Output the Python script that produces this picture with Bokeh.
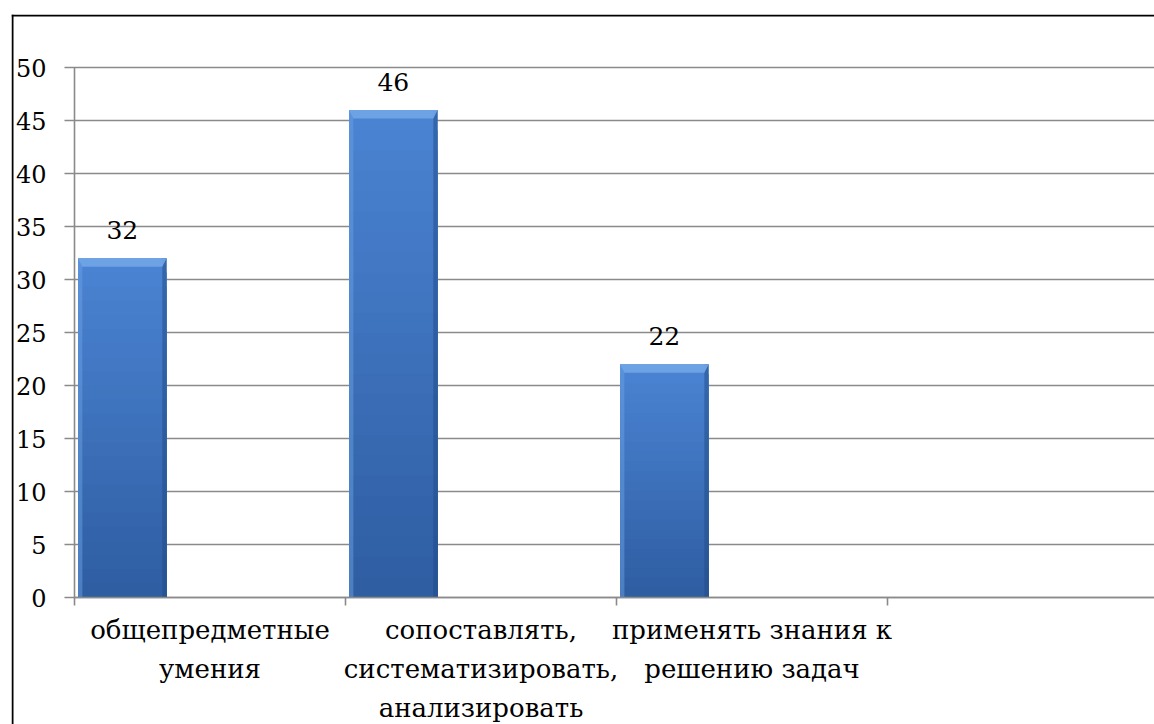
from bokeh.plotting import figure
from bokeh.models import (Range1d, FixedTicker, LabelSet, ColumnDataSource, LinearAxis)
from bokeh.core.properties import value
from bokeh.embed import file_html
from bokeh.resources import INLINE

# --- data -------------------------------------------------------------
categories = [
    "общепредметные\nумения",
    "сопоставлять,\nсистематизировать,\nанализировать",
    "применять знания к\nрешению задач",
    "",
]
values = [32, 46, 22]
y_ticks = [0, 5, 10, 15, 20, 25, 30, 35, 40, 45, 50]

FONT = "DejaVu Serif"
GRID = "#8a8a8a"

# the frame covers the whole chart area; axes sit at x=0 / y=0 inside it
X0, X1 = -0.2325, 3.985
Y0, Y1 = -11.98, 55.0
p = figure(width=1154, height=724, output_backend="svg", toolbar_location=None,
           x_range=Range1d(X0, X1), y_range=Range1d(Y0, Y1),
           min_border_left=11, min_border_right=0,
           min_border_top=14, min_border_bottom=0)
p.outline_line_color = None
p.background_fill_color = "white"
p.border_fill_color = "white"
p.xaxis.visible = False
p.yaxis.visible = False
p.xgrid.visible = False
p.ygrid.visible = False

# chart-area border (top and left edges), one pixel inside the frame
px_x = (X1 - X0) / 1143.0
px_y = (Y1 - Y0) / 710.0
p.segment(x0=[X0 + px_x, X0], x1=[X0 + px_x, X1],
          y0=[Y0, Y1 - px_y], y1=[Y1, Y1 - px_y],
          line_color="black", line_width=2)

# horizontal grid lines, starting where the value-axis ticks start
n_cat = len(categories)
p.segment(x0=-0.037, x1=n_cat, y0=y_ticks, y1=y_ticks,
          line_color=GRID, line_width=1.6)

# value axis
yax = LinearAxis(fixed_location=0, ticker=FixedTicker(ticks=y_ticks))
yax.axis_line_color = GRID
yax.axis_line_width = 1.6
yax.major_tick_line_color = None
yax.minor_tick_line_color = None
yax.major_label_standoff = 22
yax.major_label_text_font = FONT
yax.major_label_text_font_size = "24px"
yax.major_label_text_color = "black"
yax.bounds = (0, 50)
p.add_layout(yax, "left")

# category axis: labels at category centres, boundary marks as minor ticks
centres = [i + 0.5 for i in range(n_cat)]
xax = LinearAxis(fixed_location=0,
                 ticker=FixedTicker(ticks=centres, minor_ticks=list(range(n_cat + 1))))
xax.major_label_overrides = {c: lab for c, lab in zip(centres, categories)}
xax.axis_line_color = GRID
xax.axis_line_width = 1.6
xax.major_tick_line_color = None
xax.major_tick_in = 0
xax.major_tick_out = 8
xax.minor_tick_line_color = GRID
xax.minor_tick_line_width = 1.6
xax.minor_tick_in = 0
xax.minor_tick_out = 8
xax.major_label_standoff = 9
xax.major_label_text_font = FONT
xax.major_label_text_font_size = "26px"
xax.major_label_text_color = "black"
xax.major_label_text_line_height = 1.3
xax.bounds = (0, n_cat)
p.add_layout(xax, "below")

# bars: vertical shading, stacked from the top slice down so no seams show
idx = list(range(len(values)))
left_off, right_off = 0.013, 0.34
lefts = [i + left_off for i in idx]
rights = [i + right_off for i in idx]

top_col = (0x4b, 0x84, 0xd3)
bot_col = (0x2e, 0x5d, 0xa2)
n_slices = 24
for k in reversed(range(n_slices)):
    t = (k + 0.5) / n_slices
    c = tuple(int(round(bot_col[j] + (top_col[j] - bot_col[j]) * t)) for j in range(3))
    p.quad(left=lefts, right=rights, bottom=0,
           top=[v * (k + 1) / n_slices for v in values],
           fill_color="#%02x%02x%02x" % c, line_color=None)

# side shading: light left edge, dark right edge
edge = 0.016
p.quad(left=lefts, right=[l + edge for l in lefts], bottom=0, top=values,
       fill_color="#6a9fe2", fill_alpha=0.5, line_color=None)
p.quad(left=[r - edge for r in rights], right=rights, bottom=0, top=values,
       fill_color="#1f4a86", fill_alpha=0.5, line_color=None)

# bevel on top of each bar
bevel_h = 0.8
bev_xs = [[l, r, r - edge, l + edge] for l, r in zip(lefts, rights)]
bev_ys = [[v, v, v - bevel_h, v - bevel_h] for v in values]
p.patches(xs=bev_xs, ys=bev_ys, fill_color="#6fa3e5", line_color=None, fill_alpha=0.95)

# value labels
vsrc = ColumnDataSource(dict(x=[(l + r) / 2 for l, r in zip(lefts, rights)],
                             y=values, t=[str(v) for v in values]))
p.add_layout(LabelSet(x="x", y="y", text="t", source=vsrc, y_offset=19,
                      text_align="center", text_baseline="alphabetic",
                      text_font=value(FONT), text_font_size="25px",
                      text_color="black"))

open("out.html", "w").write(file_html(p, INLINE))
